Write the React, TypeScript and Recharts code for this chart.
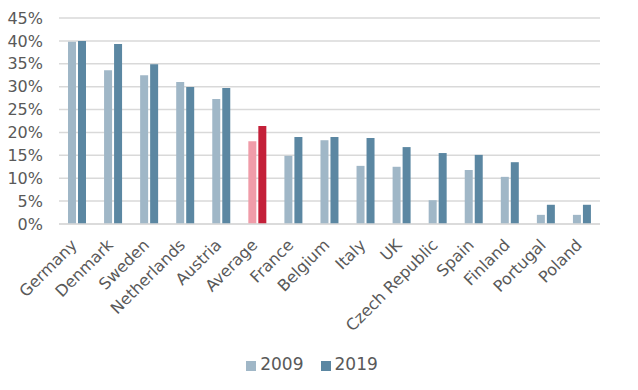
import React from 'react';
import { BarChart, Bar, XAxis, YAxis, CartesianGrid, Legend, Cell } from 'recharts';

const countries = [
  'Germany', 'Denmark', 'Sweden', 'Netherlands', 'Austria', 'Average', 'France', 'Belgium',
  'Italy', 'UK', 'Czech Republic', 'Spain', 'Finland', 'Portugal', 'Poland',
];
const share2009 = [39.8, 33.6, 32.5, 31.0, 27.3, 18.1, 14.9, 18.3, 12.7, 12.5, 5.2, 11.8, 10.3, 2.0, 2.0];
const share2019 = [40.0, 39.3, 34.9, 29.9, 29.7, 21.4, 19.0, 19.0, 18.8, 16.8, 15.5, 15.1, 13.5, 4.2, 4.2];
const yTicks = [0, 5, 10, 15, 20, 25, 30, 35, 40, 45];

const data = countries.map((name, i) => ({ name, y2009: share2009[i], y2019: share2019[i] }));

const FONT = '"DejaVu Sans", sans-serif';
const TEXT = '#595959';
const GRID = '#d9d9d9';
const C2009 = '#a0b7c7';
const C2019 = '#5b87a2';
const AVG2009 = '#f09ca9';
const AVG2019 = '#c42039';

export default function App() {
  return (
    <div style={{ position: 'absolute', left: 0, top: 0, width: 638, height: 390, background: '#fff', fontFamily: FONT }}>
      <BarChart
        width={638}
        height={390}
        data={data}
        margin={{ top: 18, right: 38, left: 0, bottom: 16 }}
        barSize={8}
        barGap={2}
      >
        <CartesianGrid vertical={false} stroke={GRID} strokeWidth={1.5} />
        <XAxis
          dataKey="name"
          interval={0}
          angle={-45}
          textAnchor="end"
          height={130}
          tickLine={false}
          tickSize={0}
          tickMargin={14}
          axisLine={{ stroke: GRID, strokeWidth: 1.5 }}
          tick={{ fill: TEXT, fontSize: 16, fontFamily: FONT, dx: -7 }}
        />
        <YAxis
          domain={[0, 45]}
          ticks={yTicks}
          interval={0}
          width={59}
          tickFormatter={(v) => `${v}%`}
          axisLine={false}
          tickLine={false}
          tickSize={0}
          tickMargin={16}
          tick={{ fill: TEXT, fontSize: 16, fontFamily: FONT }}
        />
        <Legend
          iconType="square"
          iconSize={10}
          wrapperStyle={{ paddingLeft: 17 }}
          formatter={(value) => (
            <span style={{ color: TEXT, fontSize: 17, fontFamily: FONT, marginRight: value === '2009' ? 7 : 0 }}>
              {value}
            </span>
          )}
        />
        <Bar dataKey="y2009" name="2009" fill={C2009} isAnimationActive={false}>
          {data.map((d) => (
            <Cell key={d.name} fill={d.name === 'Average' ? AVG2009 : C2009} />
          ))}
        </Bar>
        <Bar dataKey="y2019" name="2019" fill={C2019} isAnimationActive={false}>
          {data.map((d) => (
            <Cell key={d.name} fill={d.name === 'Average' ? AVG2019 : C2019} />
          ))}
        </Bar>
      </BarChart>
    </div>
  );
}
